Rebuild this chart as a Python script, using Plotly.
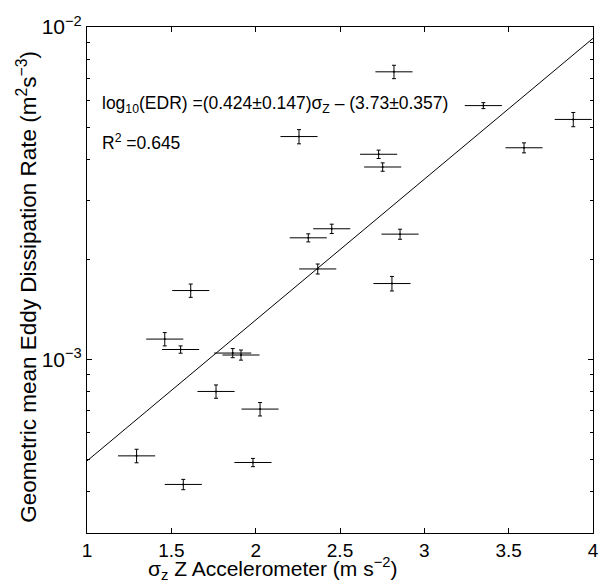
import plotly.graph_objects as go

# Data
sigma_z = [2.820, 3.350, 3.883, 2.257, 3.591, 2.729, 2.753, 2.451, 2.312, 2.856, 2.368,
           2.808, 1.615, 1.461, 1.555, 1.864, 1.913, 1.765, 2.026, 1.294, 1.984, 1.571]
edr = [7.33e-3, 5.80e-3, 5.27e-3, 4.68e-3, 4.33e-3, 4.14e-3, 3.79e-3, 2.47e-3, 2.32e-3, 2.38e-3, 1.87e-3,
       1.69e-3, 1.61e-3, 1.15e-3, 1.07e-3, 1.044e-3, 1.03e-3, 8.0e-4, 7.08e-4, 5.12e-4, 4.89e-4, 4.2e-4]
edr_err = [0.34e-3, 0.12e-3, 0.26e-3, 0.23e-3, 0.15e-3, 0.12e-3, 0.11e-3, 0.08e-3, 0.065e-3, 0.083e-3, 0.065e-3,
           0.085e-3, 0.074e-3, 0.053e-3, 0.027e-3, 0.033e-3, 0.036e-3, 0.037e-3, 0.033e-3, 0.024e-3, 0.014e-3, 0.015e-3]
sigma_err = [0.11] * 22

fit_slope = 0.424
fit_intercept = -3.73
fit_x = [1, 4]

x_ticks = [1, 1.5, 2, 2.5, 3, 3.5, 4]
x_ticktext = ["1", "1.5", "2", "2.5", "3", "3.5", "4"]
y_ticks = [1e-3, 1e-2]
y_ticktext = ["10<sup>−3</sup>", "10<sup>−2</sup>"]
y_minor = [3e-4, 4e-4, 5e-4, 6e-4, 7e-4, 8e-4, 9e-4, 2e-3, 3e-3, 4e-3, 5e-3, 6e-3, 7e-3, 8e-3, 9e-3]

font = "Liberation Sans, Arial, Helvetica, sans-serif"

fig = go.Figure()
fig.add_trace(go.Scatter(
    x=sigma_z, y=edr, mode="markers",
    marker=dict(size=2, color="black"),
    error_x=dict(type="data", array=sigma_err, color="black", thickness=1, width=0),
    error_y=dict(type="data", array=edr_err, color="black", thickness=1, width=2),
    showlegend=False, hoverinfo="x+y"))

fig.add_trace(go.Scatter(
    x=fit_x, y=[10 ** (fit_slope * v + fit_intercept) for v in fit_x],
    mode="lines", line=dict(color="black", width=1), showlegend=False))

fig.add_annotation(xref="x", yref="paper", x=1.08, y=0.846, xanchor="left", yanchor="middle",
                   text="log<sub>10</sub>(EDR) =(0.424±0.147)σ<sub>Z</sub> – (3.73±0.357)",
                   showarrow=False, font=dict(family=font, size=17.5, color="black"))
fig.add_annotation(xref="x", yref="paper", x=1.08, y=0.773, xanchor="left", yanchor="middle",
                   text="R<sup>2</sup> =0.645",
                   showarrow=False, font=dict(family=font, size=17.5, color="black"))

# Axis titles as annotations for exact placement
fig.add_annotation(xref="paper", yref="paper", x=0.366, y=-0.071, xanchor="center", yanchor="middle",
                   text="σ<sub>z</sub> Z Accelerometer (m s<sup>−2</sup>)",
                   showarrow=False, font=dict(family=font, size=21, color="black"))
fig.add_annotation(xref="paper", yref="paper", x=-0.119, y=0.486, xanchor="center", yanchor="middle",
                   textangle=-90,
                   text="Geometric mean Eddy Dissipation Rate (m<sup>2</sup>s<sup>−3</sup>)",
                   showarrow=False, font=dict(family=font, size=22.5, color="black"))

fig.update_layout(
    width=599, height=586,
    margin=dict(l=87, r=6, t=27, b=53),
    paper_bgcolor="white", plot_bgcolor="white",
    font=dict(family=font, size=19, color="black"),
)
fig.update_xaxes(
    range=[1, 4], tickvals=x_ticks, ticktext=x_ticktext, automargin=False,
    ticks="inside", ticklen=5, tickcolor="black", showline=True, linecolor="black", linewidth=1,
    mirror="ticks", showgrid=False, zeroline=False, tickfont=dict(size=19))
fig.update_yaxes(
    type="log", range=[-3.5229, -2], tickvals=y_ticks, ticktext=y_ticktext, automargin=False,
    ticks="inside", ticklen=5, tickcolor="black", showline=True, linecolor="black", linewidth=1,
    mirror="ticks", showgrid=False, zeroline=False,
    minor=dict(tickvals=y_minor, ticks="inside", ticklen=3, tickcolor="black", showgrid=False),
    tickfont=dict(size=21))

fig.write_html("out.html", config={"displayModeBar": False},
               post_script="document.body.style.margin='0';document.body.style.overflow='hidden';")
